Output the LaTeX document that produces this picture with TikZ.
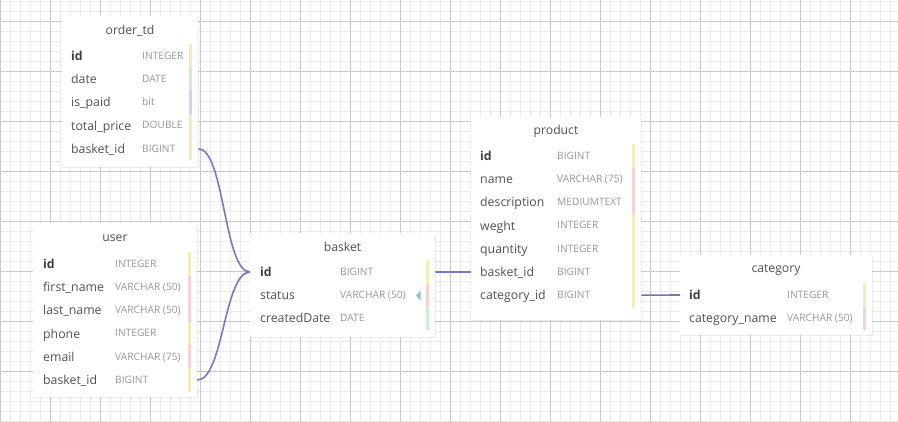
\documentclass[tikz,border=0pt]{standalone}
\usepackage{fontspec}
\setmainfont{Open Sans}
\usetikzlibrary{shadows}
\definecolor{linkblue}{RGB}{118,121,196}
\definecolor{linkpurple}{RGB}{132,104,188}
\definecolor{barY}{RGB}{240,238,186}
\definecolor{barR}{RGB}{250,208,208}
\definecolor{barG}{RGB}{204,240,206}
\definecolor{barB}{RGB}{208,208,246}
\definecolor{tipblue}{RGB}{142,190,218}
\tikzset{
	minorline/.style={line width=0.5pt, draw=black!8},
	majorline/.style={line width=0.7pt, draw=black!21},
	tbl/.style={fill=white, draw=none, anchor=north west, inner sep=0pt,
		drop shadow={opacity=0.14, shadow xshift=0.6pt, shadow yshift=-1pt}},
	ttl/.style={inner sep=0pt, font=\fontsize{12.2}{14}\selectfont, text=black!68},
	fname/.style={anchor=west, inner sep=0pt, text height=11pt, text depth=2pt,
		font=\fontsize{12.3}{14}\selectfont, text=black!68},
	fkey/.style={fname, font=\fontsize{12.3}{14}\selectfont\bfseries, text=black!76},
	ftype/.style={anchor=west, inner sep=0pt, text height=8.8pt, text depth=2pt,
		font=\fontsize{10.2}{12}\selectfont, text=black!40},
	link/.style={line width=1.6pt, draw=linkblue},
}

\begin{document}
\begin{tikzpicture}[x=1pt, y=-1pt]
	%%%%% GRID %%%%%
	\useasboundingbox (0,0) rectangle (898,422);
	\fill[white] (0,0) rectangle (898,422);
	\foreach \x in {0,10,...,890} \draw[minorline] (\x,0) -- (\x,422);
	\foreach \y in {1,11,...,421} \draw[minorline] (0,\y) -- (898,\y);
	\foreach \x in {0,50,...,850} \draw[majorline] (\x,0) -- (\x,422);
	\foreach \y in {21,71,...,371} \draw[majorline] (0,\y) -- (898,\y);
	
	%%%%% ORDER_TD %%%%%
	\node[tbl, minimum width=136pt, minimum height=151pt] (order) at (62,16) {};
	\node[ttl] (order-title) at (130,31) {order\_td};
	\foreach \fs/\fn/\ft/\fc [count=\i from 0] in {fkey/id/INTEGER/barY, fname/date/DATE/barG,
		fname/is\_paid/bit/barB, fname/total\_price/DOUBLE/barY, fname/basket\_id/BIGINT/barY} {
		\node[\fs] (order-\i) at (71,{56+23.2*\i}) {\fn};
		\node[ftype] (order-t\i) at (142,{56+23.2*\i}) {\ft};
		\fill[\fc] (188.5,{44.4+23.2*\i}) rectangle +(3,23.2);
	}
	
	%%%%% USER %%%%%
	\node[tbl, minimum width=164pt, minimum height=174pt] (user) at (33,223) {};
	\node[ttl] (user-title) at (115,238) {user};
	\foreach \fs/\fn/\ft/\fc [count=\i from 0] in {fkey/id/INTEGER/barY, fname/first\_name/VARCHAR (50)/barR,
		fname/last\_name/VARCHAR (50)/barR, fname/phone/INTEGER/barY, fname/email/VARCHAR (75)/barR,
		fname/basket\_id/BIGINT/barY} {
		\node[\fs] (user-\i) at (43,{264+23.2*\i}) {\fn};
		\node[ftype] (user-t\i) at (115,{264+23.2*\i}) {\ft};
		\fill[\fc] (187.5,{252.4+23.2*\i}) rectangle +(3,23.2);
	}
	
	%%%%% BASKET %%%%%
	\node[tbl, minimum width=185pt, minimum height=104pt] (basket) at (250,233) {};
	\node[ttl] (basket-title) at (342.5,247) {basket};
	\foreach \fs/\fn/\ft/\fc [count=\i from 0] in {fkey/id/BIGINT/barY, fname/status/VARCHAR (50)/barR,
		fname/createdDate/DATE/barG} {
		\node[\fs] (basket-\i) at (260,{272+23.2*\i}) {\fn};
		\node[ftype] (basket-t\i) at (340,{272+23.2*\i}) {\ft};
		\fill[\fc] (425.5,{260.4+23.2*\i}) rectangle +(3,23.2);
	}
	\fill[tipblue] (416,295.5) -- (420.5,290.5) -- (420.5,300.5) -- cycle;
	
	%%%%% PRODUCT %%%%%
	\node[tbl, minimum width=170pt, minimum height=203pt] (product) at (471,117) {};
	\node[ttl] (product-title) at (556,131) {product};
	\foreach \fs/\fn/\ft/\fc [count=\i from 0] in {fkey/id/BIGINT/barY, fname/name/VARCHAR (75)/barR,
		fname/description/MEDIUMTEXT/barR, fname/weght/INTEGER/barY, fname/quantity/INTEGER/barY,
		fname/basket\_id/BIGINT/barY, fname/category\_id/BIGINT/barY} {
		\node[\fs] (product-\i) at (480,{156+23.2*\i}) {\fn};
		\node[ftype] (product-t\i) at (557,{156+23.2*\i}) {\ft};
		\fill[\fc] (631.5,{144.4+23.2*\i}) rectangle +(3,23.2);
	}
	
	%%%%% CATEGORY %%%%%
	\node[tbl, minimum width=192pt, minimum height=80pt] (category) at (680,255) {};
	\node[ttl] (category-title) at (776,270) {category};
	\foreach \fs/\fn/\ft/\fc [count=\i from 0] in {fkey/id/INTEGER/barY, fname/category\_name/VARCHAR (50)/barR} {
		\node[\fs] (category-\i) at (689,{295+23.2*\i}) {\fn};
		\node[ftype] (category-t\i) at (787,{295+23.2*\i}) {\ft};
		\fill[\fc] (862.5,{283.4+23.2*\i}) rectangle +(3,23.2);
	}
	
	%%%%% LINKS %%%%%
	\draw[link] (order.east |- order-4) .. controls +(26,0) and +(-26,0) .. (basket.west |- basket-0);
	\draw[link] (user.east |- user-5) .. controls +(26,0) and +(-26,0) .. (basket.west |- basket-0);
	\draw[link] (basket.east |- basket-0) -- (product.west |- product-5);
	\draw[link, draw=linkpurple] (product.east |- product-6) -- (category.west |- category-0);
\end{tikzpicture}
\end{document}
